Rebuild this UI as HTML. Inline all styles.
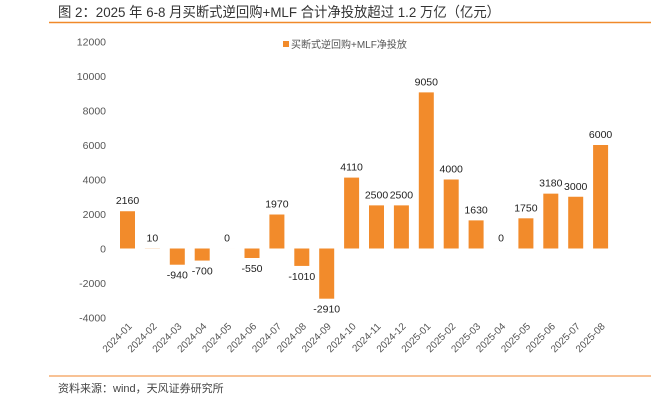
<!DOCTYPE html>
<html><head><meta charset="utf-8"><style>
body{margin:0;width:666px;height:401px;background:#fff;overflow:hidden;font-family:"Liberation Sans","Noto Sans CJK SC",sans-serif}
</style></head><body>
<svg width="666" height="401" xmlns="http://www.w3.org/2000/svg">
<text x="58" y="17" font-size="14" fill="#333" textLength="442" lengthAdjust="spacingAndGlyphs" font-family="Liberation Sans, Noto Sans CJK SC, sans-serif">图 2：2025 年 6-8 月买断式逆回购+MLF 合计净投放超过 1.2 万亿（亿元）</text>
<line x1="49" y1="22.5" x2="651" y2="22.5" stroke="#f0892a" stroke-width="1.5"/>
<line x1="49" y1="376" x2="651" y2="376" stroke="#f5ad72" stroke-width="1.5"/>
<text x="58" y="392" font-size="11" fill="#444" font-family="Liberation Sans, Noto Sans CJK SC, sans-serif">资料来源：wind，天风证券研究所</text>
<rect x="283" y="41" width="6" height="6" fill="#f28b2b"/>
<text x="291" y="48" font-size="10" fill="#555" font-family="Liberation Sans, Noto Sans CJK SC, sans-serif">买断式逆回购+MLF净投放</text>
<g id="yaxis"></g><g id="bars"></g><g id="xaxis"></g>
</svg>
<script>
const categories=["2024-01","2024-02","2024-03","2024-04","2024-05","2024-06","2024-07","2024-08","2024-09","2024-10","2024-11","2024-12","2025-01","2025-02","2025-03","2025-04","2025-05","2025-06","2025-07","2025-08"];
const values=[2160,10,-940,-700,0,-550,1970,-1010,-2910,4110,2500,2500,9050,4000,1630,0,1750,3180,3000,6000];
const yTicks=[12000,10000,8000,6000,4000,2000,0,-2000,-4000];
const NS="http://www.w3.org/2000/svg";
function y(v){return 248.5-v*0.01725;}
function x(i){return 127.5+i*24.9;}
function mk(t,a,p){const e=document.createElementNS(NS,t);for(const k in a)e.setAttribute(k,a[k]);p.appendChild(e);return e;}
const ya=document.getElementById('yaxis'),bg=document.getElementById('bars'),xa=document.getElementById('xaxis');
yTicks.forEach(v=>{const t=mk('text',{x:106,y:y(v)+4,'font-size':10.5,fill:'#555','text-anchor':'end'},ya);


t.textContent=v;});
values.forEach((v,i)=>{const top=Math.min(y(v),y(0)),h=Math.abs(y(v)-y(0));
const r=mk('rect',{x:x(i)-7.5,y:top,width:15,height:Math.max(h,0.01),fill:'#f28b2b'},bg);


const ly=v>=0?y(v)-7:y(v)+14;
const t=mk('text',{x:x(i),y:ly,'font-size':10.5,fill:'#222','text-anchor':'middle'},bg);


t.textContent=v;
const c=mk('text',{x:0,y:0,'font-size':10,fill:'#555','text-anchor':'end',transform:`translate(${x(i)+5},${327}) rotate(-45)`},xa);


c.textContent=categories[i];});
</script>
</body></html>
